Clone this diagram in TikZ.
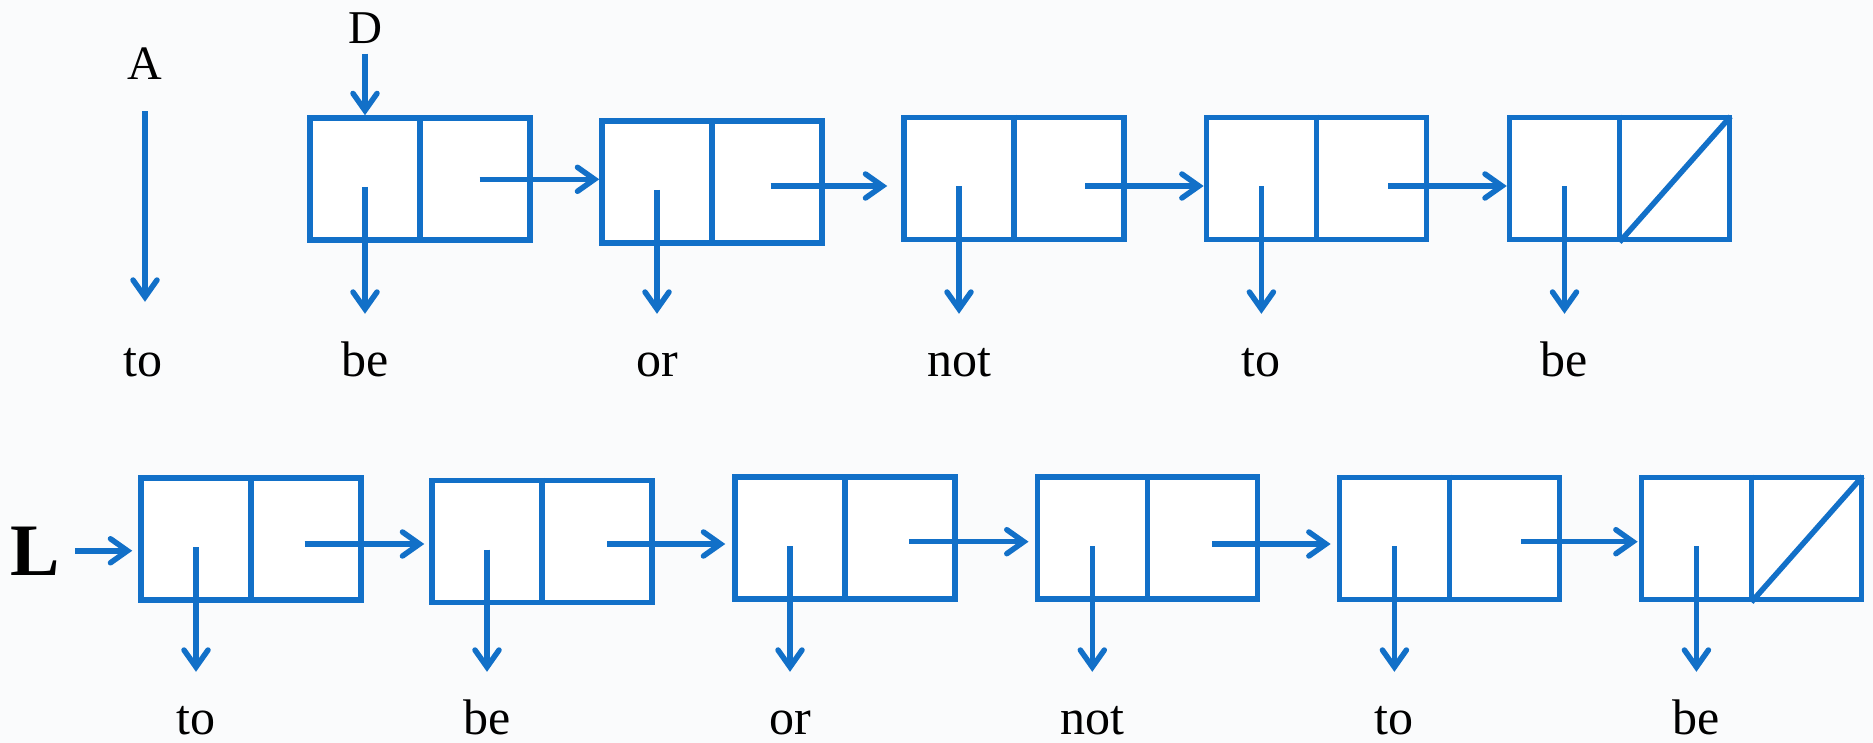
\documentclass[tikz,border=0pt]{standalone}
\usepackage{fontspec}
\setmainfont{Liberation Serif}
\usetikzlibrary{arrows.meta}
\definecolor{lblue}{RGB}{18,112,200}
\definecolor{bgpaper}{RGB}{250,251,252}
\begin{document}
\begin{tikzpicture}[x=1pt,y=-1pt,
  cell/.style={draw=lblue, fill=white, line width=5.5pt, rectangle, minimum width=220pt, minimum height=122pt, inner sep=0pt},
  ptr/.style={draw=lblue, line width=5.5pt, -{Straight Barb[length=17pt,width=24pt,line cap=round]}},
  word/.style={anchor=base, inner sep=0pt, text height=32pt, font=\fontsize{50}{54}\selectfont},
  wire/.style={draw=lblue, line width=5.5pt}
]
\fill[bgpaper] (0,0) rectangle (1873,743);
\useasboundingbox (0,0) rectangle (1873,743);

% top row cells
\node[cell] (T1) at (420,179) {};
\node[cell] (T2) at (712,182) {};
\node[cell] (T3) at (1014,178.3) {};
\node[cell] (T4) at (1316.4,178.3) {};
\node[cell] (T5) at (1619.5,178.3) {};
% bottom row cells
\node[cell] (B1) at (251,539) {};
\node[cell] (B2) at (542,541.6) {};
\node[cell] (B3) at (845,538) {};
\node[cell] (B4) at (1147.3,538) {};
\node[cell] (B5) at (1449.4,538.3) {};
\node[cell] (B6) at (1751.4,538.3) {};

\foreach \n in {T1,T2,T3,T4,T5,B1,B2,B3,B4,B5,B6}
  \draw[wire] (\n.north) -- (\n.south);
\draw[wire, shorten >=2.5pt] (T5.south) -- (T5.north east);
\draw[wire, shorten >=2.5pt] (B6.south) -- (B6.north east);

% words
\node[word] (wT1) at (365,376) {be};
\node[word] (wT2) at (657,376) {or};
\node[word] (wT3) at (959.3,376) {not};
\node[word] (wT4) at (1261.4,376) {to};
\node[word] (wT5) at (1564.5,376) {be};
\node[word] (wB1) at (196,734) {to};
\node[word] (wB2) at (487,734) {be};
\node[word] (wB3) at (790,734) {or};
\node[word] (wB4) at (1092.3,734) {not};
\node[word] (wB5) at (1394.4,734) {to};
\node[word] (wB6) at (1696.4,734) {be};
\node[word] (w0) at (143,376) {to};

\node[anchor=base, inner sep=0pt, font=\fontsize{48}{52}\selectfont] (A) at (145,79.3) {A};
\node[anchor=base, inner sep=0pt, font=\fontsize{47}{52}\selectfont] (D) at (365,43.3) {D};
\node[anchor=base, inner sep=0pt, font=\fontsize{74}{80}\selectfont\bfseries] (L) at (35.5,575) {L};

% data pointers
\foreach \n in {T1,T2,T3,T4,T5,B1,B2,B3,B4,B5,B6}{
  \path ([xshift=-55pt,yshift=-8pt]\n.center) coordinate (d\n);
  \draw[ptr, shorten >=30pt] (d\n) -- (d\n |- w\n.north);
}

% next pointers
\coordinate (nT1) at (479.6,179.3);
\coordinate (nT2) at (770.6,186);
\coordinate (nT3) at (1085,186);
\coordinate (nT4) at (1388,186);
\coordinate (nB1) at (304.5,544);
\coordinate (nB2) at (607.3,544);
\coordinate (nB3) at (909.4,541.7);
\coordinate (nB4) at (1212.2,544);
\coordinate (nB5) at (1521.1,541.7);
\draw[ptr] (nT1) -- (nT1 -| T2.west);
\draw[ptr, shorten >=14pt] (nT2) -- (nT2 -| T3.west);
\draw[ptr] (nT3) -- (nT3 -| T4.west);
\draw[ptr] (nT4) -- (nT4 -| T5.west);
\draw[ptr, shorten >=5pt] (nB1) -- (nB1 -| B2.west);
\draw[ptr, shorten >=7pt] (nB2) -- (nB2 -| B3.west);
\draw[ptr, shorten >=6pt] (nB3) -- (nB3 -| B4.west);
\draw[ptr, shorten >=6pt] (nB4) -- (nB4 -| B5.west);
\draw[ptr, shorten >=1pt] (nB5) -- (nB5 -| B6.west);

% head pointers
\draw[ptr, shorten <=15pt, shorten >=6pt] (L.east) -- (L.east -| B1.west);
\draw[ptr, shorten <=32pt, shorten >=42pt] (A.south) -- (A.south |- w0.north);
\draw[ptr, shorten <=10pt] (D.south) -- (D.south |- T1.north);
\end{tikzpicture}
\end{document}
